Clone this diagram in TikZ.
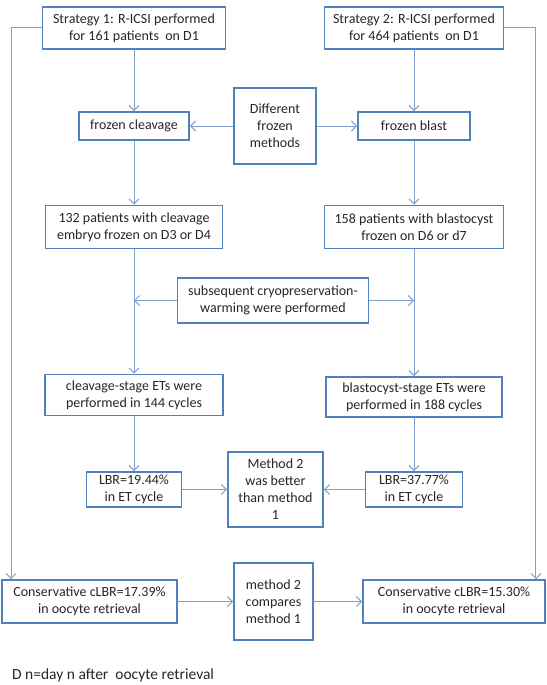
\documentclass[tikz,border=0pt]{standalone}
\usepackage{fontspec}
\setmainfont{Carlito}
\usetikzlibrary{arrows.meta}
\definecolor{boxblue}{RGB}{79,129,189}
\definecolor{lineblue}{RGB}{126,160,206}
\tikzset{
  box/.style={draw=boxblue, line width=1.8pt, fill=white, inner sep=0pt, align=center,
    font=\fontsize{14}{17}\selectfont, text=black!85},
  conn/.style={draw=lineblue, line width=1pt, -{Straight Barb[length=5pt,width=10pt]}},
}
\begin{document}
\begin{tikzpicture}[x=1pt,y=-1pt]
\useasboundingbox (0,0) rectangle (546,685);
% left column x=134, middle 274, right 414
\node[box, minimum width=183pt, minimum height=42pt] (s1) at (134,28) {Strategy 1: R-ICSI performed\\for 161 patients\ \ on D1};
\node[box, minimum width=179pt, minimum height=42pt] (s2) at (414,28) {Strategy 2: R-ICSI performed\\for 464 patients\ \ on D1};
\node[box, minimum width=110pt, minimum height=28pt] (fc) at (134,126) {frozen cleavage};
\node[box, minimum width=82pt, minimum height=76pt] (dfm) at (275,126) {Different\\frozen\\methods};
\node[box, minimum width=112pt, minimum height=28pt] (fb) at (414,126) {frozen blast};
\node[box, minimum width=177pt, minimum height=43pt] (p132) at (134,227) {132 patients with cleavage\\embryo frozen on D3 or D4};
\node[box, minimum width=179pt, minimum height=43pt] (p158) at (414,227) {158 patients with blastocyst\\frozen on D6 or d7};
\node[box, minimum width=191pt, minimum height=45pt] (sub) at (273,300.5) {subsequent cryopreservation-\\warming were performed};
\node[box, minimum width=178pt, minimum height=41pt] (cs) at (134,395) {cleavage-stage ETs were\\performed in 144 cycles};
\node[box, minimum width=176pt, minimum height=40pt] (bs) at (414,397) {blastocyst-stage ETs were\\performed in 188 cycles};
\node[box, minimum width=95pt, minimum height=35pt] (lbrL) at (134,489.5) {LBR=19.44\%\\in ET cycle};
\node[box, minimum width=95pt, minimum height=75pt] (m2b) at (275.5,489.5) {Method 2\\was better\\than method\\1};
\node[box, minimum width=97pt, minimum height=35pt] (lbrR) at (414,489.5) {LBR=37.77\%\\in ET cycle};
\node[box, minimum width=175pt, minimum height=43pt] (consL) at (89.5,601.5) {Conservative cLBR=17.39\%\\in oocyte retrieval};
\node[box, minimum width=79pt, minimum height=77pt] (cmp) at (273.5,601.5) {method 2\\compares\\method 1};
\node[box, minimum width=182pt, minimum height=43pt] (consR) at (454,601.5) {Conservative cLBR=15.30\%\\in oocyte retrieval};
\node[anchor=west, inner sep=0pt, font=\fontsize{15.5}{18}\selectfont, text=black!85] (foot) at (12,675) {D n=day n after\ \ oocyte retrieval};
% connectors
\draw[conn] (s1.west) -| ([xshift=10pt]consL.north west);
\draw[conn] (s2.east) -| ([xshift=-10pt]consR.north east);
\draw[conn] (s1.south) -- (fc.north);
\draw[conn] (s2.south) -- (fb.north);
\draw[conn] (dfm.west) -- (fc.east);
\draw[conn] (dfm.east) -- (fb.west);
\draw[conn] (fc.south) -- (p132.north);
\draw[conn] (fb.south) -- (p158.north);
\draw[conn] (p132.south) -- (cs.north);
\draw[conn] (p158.south) -- (bs.north);
\draw[conn] (sub.west) -- (sub.west -| p132.south);
\draw[conn] (sub.east) -- (sub.east -| p158.south);
\draw[conn] (cs.south) -- (lbrL.north);
\draw[conn] (bs.south) -- (lbrR.north);
\draw[conn] (lbrL.east) -- (m2b.west);
\draw[conn] (lbrR.west) -- (m2b.east);
\draw[conn] (consL.east) -- (cmp.west);
\draw[conn] (cmp.east) -- (consR.west);
\end{tikzpicture}
\end{document}
